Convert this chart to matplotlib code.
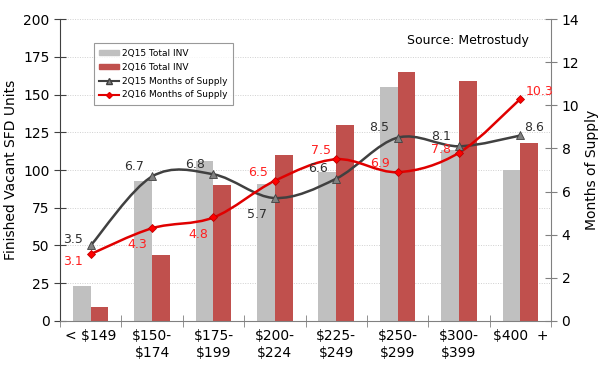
import matplotlib
matplotlib.use("Agg")
import matplotlib.pyplot as plt
import numpy as np
from matplotlib.path import Path
from matplotlib.patches import PathPatch
from matplotlib.lines import Line2D
from matplotlib.patches import Patch

plt.rcParams["axes.grid"] = False

# ── dados ────────────────────────────────────
categorias = ["< $149", "$150-\n$174", "$175-\n$199", "$200-\n$224",
              "$225-\n$249", "$250-\n$299", "$300-\n$399", "$400  +"]
inv_2q15 = [23, 93, 106, 91, 99, 155, 113, 100]
inv_2q16 = [9, 44, 90, 110, 130, 165, 159, 118]
meses_2q15 = [3.5, 6.7, 6.8, 5.7, 6.6, 8.5, 8.1, 8.6]
meses_2q16 = [3.1, 4.3, 4.8, 6.5, 7.5, 6.9, 7.8, 10.3]

CINZA = "#c0c0c0"
VERMELHO_BARRA = "#c0504d"
LINHA_15 = "#404040"
LINHA_16 = "#e00000"


def curva_suave(ax, xs, ys, cor, z):
    """Desenha linha suavizada (estilo Excel) via curvas de Bezier."""
    pts = np.column_stack([xs, ys]).astype(float)
    n = len(pts)
    verts = [pts[0]]
    codes = [Path.MOVETO]
    for i in range(n - 1):
        p0 = pts[i - 1] if i > 0 else pts[i]
        p1, p2 = pts[i], pts[i + 1]
        p3 = pts[i + 2] if i + 2 < n else pts[i + 1]
        c1 = p1 + (p2 - p0) / 6
        c2 = p2 - (p3 - p1) / 6
        verts += [c1, c2, p2]
        codes += [Path.CURVE4] * 3
    ax.add_patch(PathPatch(Path(verts, codes), facecolor="none",
                           edgecolor=cor, lw=1.8, zorder=z))


fig, ax = plt.subplots(figsize=(6.09, 3.66), dpi=100)
fig.subplots_adjust(left=0.0985, right=0.905, bottom=0.123, top=0.948)

x = np.arange(len(categorias))
w = 0.29
ax.bar(x - w / 2, inv_2q15, w, color=CINZA, zorder=2)
ax.bar(x + w / 2, inv_2q16, w, color=VERMELHO_BARRA, zorder=2)

ax.set_xlim(-0.5, len(categorias) - 0.5)
ax.set_ylim(0, 200)
ax.set_yticks(range(0, 201, 25))
ax.yaxis.grid(True, which="major", linestyle=(0, (1, 1.5)), color="#d0d0d0", lw=0.7, zorder=0)
ax.set_axisbelow(True)
ax.set_xticks(x)
ax.set_xticklabels(categorias, fontsize=10)
ax.tick_params(axis="x", length=0, pad=6)
ax.set_xticks(np.arange(-0.5, len(categorias), 1), minor=True)
ax.tick_params(axis="x", which="minor", length=8, direction="inout", color="#808080")
ax.tick_params(axis="y", length=8, direction="inout", color="#404040", labelsize=10)
ax.set_ylabel("Finished Vacant SFD Units", fontsize=10)
for s in ["top", "right"]:
    ax.spines[s].set_visible(False)
ax.spines["left"].set_color("#404040")
ax.spines["bottom"].set_color("#808080")

ax2 = ax.twinx()
ax2.set_ylim(0, 14)
ax2.set_yticks(range(0, 15, 2))
ax2.tick_params(axis="y", length=8, direction="inout", color="#808080", labelsize=10)
ax2.set_ylabel("Months of Supply", fontsize=10)
for s in ["top", "left", "bottom"]:
    ax2.spines[s].set_visible(False)
ax2.spines["right"].set_color("#808080")

curva_suave(ax2, x, meses_2q15, LINHA_15, 3)
curva_suave(ax2, x, meses_2q16, LINHA_16, 4)
ax2.plot(x, meses_2q15, ls="none", marker="^", ms=6, mfc="#808080",
         mec="#404040", mew=0.6, zorder=5)
ax2.plot(x, meses_2q16, ls="none", marker="D", ms=4.5, mfc="#ff0000",
         mec="#c00000", mew=0.6, zorder=6)

desloc_15 = [(-13, 4), (-13, 7), (-13, 7), (-13, -12), (-13, 7), (-13, 7), (-13, 7), (10, 6)]
desloc_16 = [(-13, -5), (-11, -12), (-11, -12), (-12, 6), (-11, 6), (-13, 6), (-13, 2), (14, 5)]
for xi, v, (dx, dy) in zip(x, meses_2q15, desloc_15):
    ax2.annotate(f"{v:.1f}", (xi, v), xytext=(dx, dy), textcoords="offset points",
                 ha="center", va="center", fontsize=9, color="#303030", zorder=7)
for xi, v, (dx, dy) in zip(x, meses_2q16, desloc_16):
    ax2.annotate(f"{v:.1f}", (xi, v), xytext=(dx, dy), textcoords="offset points",
                 ha="center", va="center", fontsize=9, color="#ff2020", zorder=7)

handles = [Patch(color=CINZA), Patch(color=VERMELHO_BARRA),
           Line2D([], [], color=LINHA_15, marker="^", ms=4, mfc="#808080", lw=1.5),
           Line2D([], [], color=LINHA_16, marker="D", ms=3, mfc="#ff0000", lw=1.5)]
rotulos = ["2Q15 Total INV", "2Q16 Total INV", "2Q15 Months of Supply", "2Q16 Months of Supply"]
leg = ax2.legend(handles, rotulos, loc="upper left", bbox_to_anchor=(0.06, 0.935),
                 fontsize=6.5, frameon=True, fancybox=False, handlelength=2.2,
                 handleheight=0.5, labelspacing=0.55, borderpad=0.6, handletextpad=0.3)
leg.get_frame().set_edgecolor("#808080")
leg.get_frame().set_linewidth(0.8)

ax2.text(0.955, 0.93, "Source: Metrostudy", transform=ax2.transAxes,
         ha="right", va="center", fontsize=9)

fig.savefig("out.png", dpi=100)
